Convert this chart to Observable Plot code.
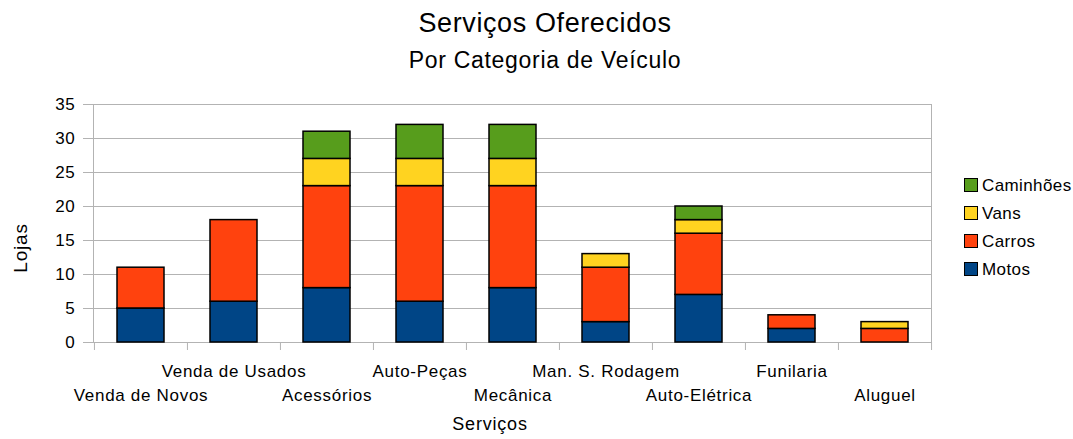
<!DOCTYPE html>
<html><head><meta charset="utf-8">
<script src="https://cdn.jsdelivr.net/npm/d3@7"></script>
<script src="https://cdn.jsdelivr.net/npm/@observablehq/plot@0.6"></script>
<style>
body{margin:0;background:#fff;font-family:"Liberation Sans",Arial,sans-serif;}
#wrap{position:relative;width:1073px;height:439px;overflow:hidden;}
.t{position:absolute;white-space:nowrap;color:#000;line-height:1;}
#wrap svg text{letter-spacing:0.7px;}
.sw{position:absolute;width:14px;height:14px;border:1px solid #000;box-sizing:border-box;}
</style></head><body><div id="wrap"></div>
<script>
const servicos = ["Venda de Novos","Venda de Usados","Acessórios","Auto-Peças","Mecânica","Man. S. Rodagem","Auto-Elétrica","Funilaria","Aluguel"];
const tipos = ["Motos","Carros","Vans","Caminhões"];
const cores = ["#004586","#ff420e","#ffd320","#579d1c"];
const motos     = [5, 6, 8, 6, 8, 3, 7, 2, 0];
const carros    = [6,12,15,17,15, 8, 9, 2, 2];
const vans      = [0, 0, 4, 4, 4, 2, 2, 0, 1];
const caminhoes = [0, 0, 4, 5, 5, 0, 2, 0, 0];
const yTicks = [0,5,10,15,20,25,30,35];
const titulo = "Serviços Oferecidos";
const subtitulo = "Por Categoria de Veículo";
const xTitulo = "Serviços";
const yTitulo = "Lojas";

const series = [motos, carros, vans, caminhoes];
const data = [];
tipos.forEach((t,k)=>series[k].forEach((v,i)=>{ if (v>0) data.push({servico:servicos[i], tipo:t, value:v}); }));

const W=1073, H=439, ML=93, MR=142, MT=104, MB=97;
const step = (W-ML-MR)/servicos.length;
const ph = H-MT-MB;
const grid = "#b3b3b3";

const chart = Plot.plot({
  width:W, height:H, marginLeft:ML, marginRight:MR, marginTop:MT, marginBottom:MB,
  style:{fontFamily:"'Liberation Sans', Arial, sans-serif", fontSize:"17px", color:"#000", background:"#fff", overflow:"visible"},
  x:{domain:servicos, paddingInner:0.5, paddingOuter:0.25, axis:null},
  y:{domain:[0,35], axis:null},
  color:{domain:tipos, range:cores},
  marks:[
    Plot.gridY(yTicks, {stroke:grid, strokeOpacity:1}),
    Plot.frame({stroke:grid}),
    Plot.ruleX(servicos, {x:d=>d, dx:-step/2, insetTop:ph, insetBottom:-8, stroke:grid}),
    Plot.ruleX(servicos.slice(-1), {x:d=>d, dx:step/2, insetTop:ph, insetBottom:-8, stroke:grid}),
    Plot.axisY(yTicks, {tickSize:10, tickPadding:8, stroke:grid, fill:"#000", label:null, fontSize:17}),
    Plot.barY(data, {x:"servico", y:"value", fill:"tipo", order:tipos, stroke:"#000", strokeWidth:1.5}),
    Plot.axisX(servicos.filter((d,i)=>i%2===1), {tickSize:0, tickPadding:22, label:null, fill:"#000", fontSize:17}),
    Plot.axisX(servicos.filter((d,i)=>i%2===0), {tickSize:0, tickPadding:46, label:null, fill:"#000", fontSize:17})
  ]
});
const wrap = document.getElementById("wrap");
wrap.appendChild(chart);

function addText(txt, left, top, fs, ls, extra){
  const d = document.createElement("div");
  d.className = "t";
  d.textContent = txt;
  d.style.left = left+"px"; d.style.top = top+"px";
  d.style.fontSize = fs+"px"; d.style.letterSpacing = ls+"px";
  if (extra) Object.assign(d.style, extra);
  wrap.appendChild(d);
  return d;
}
addText(titulo, 545, 10, 27, 0.6, {transform:"translateX(-50%)"});
addText(subtitulo, 545, 49, 23, 0.7, {transform:"translateX(-50%)"});
addText(xTitulo, 490, 415, 18, 0.8, {transform:"translateX(-50%)"});
addText(yTitulo, 20, 248, 19, 0.8, {transform:"translate(-50%,-50%) rotate(-90deg)"});

const legendY = [269, 241, 213, 185];
tipos.forEach((t,k)=>{
  const s = document.createElement("div");
  s.className = "sw";
  s.style.left = "964px"; s.style.top = (legendY[k]-7)+"px";
  s.style.background = cores[k];
  wrap.appendChild(s);
  addText(t, 982, legendY[k]-8.5, 17, 0.4);
});
</script></body></html>
